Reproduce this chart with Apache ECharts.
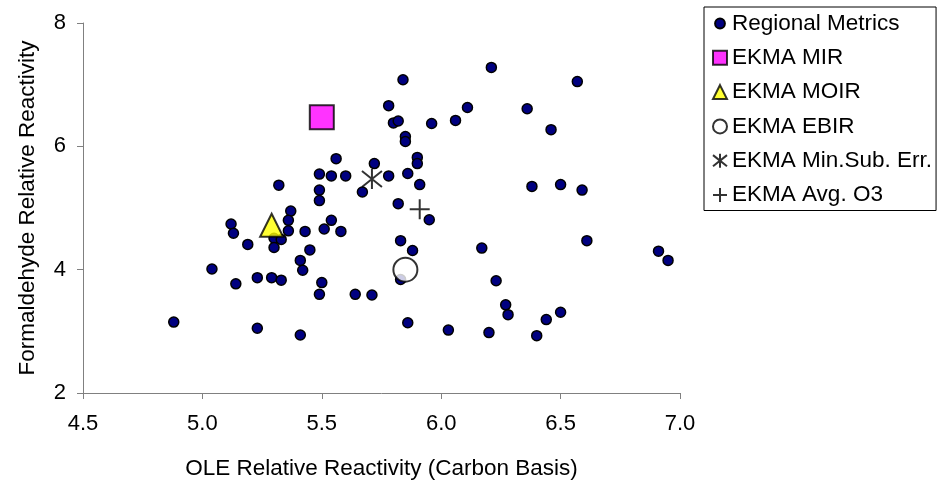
<!DOCTYPE html>
<html>
<head>
<meta charset="utf-8">
<script src="https://cdn.jsdelivr.net/npm/echarts@6/dist/echarts.min.js"></script>
<style>
  html, body { margin: 0; padding: 0; background: #fff; }
  #chart { width: 938px; height: 488px; }
</style>
</head>
<body>
<div id="chart"></div>
<script>
// Regional metric points: OLE relative reactivity (x) vs formaldehyde relative reactivity (y)
const regionalX = [4.88, 5.04, 5.12, 5.13, 5.14, 5.19, 5.23, 5.23, 5.29, 5.33, 5.30, 5.33, 5.30, 5.32, 5.37, 5.36, 5.36, 5.41, 5.42, 5.41,
  5.43, 5.45, 5.49, 5.49, 5.49, 5.50, 5.49, 5.51, 5.54, 5.54, 5.58, 5.56, 5.60, 5.64, 5.67, 5.71, 5.72, 5.78, 5.78, 5.80,
  5.82, 5.84, 5.82, 5.83, 5.83, 5.85, 5.85, 5.86, 5.86, 5.88, 5.90, 5.90, 5.91, 5.95, 5.96, 6.03, 6.06, 6.11, 6.17, 6.20,
  6.21, 6.23, 6.27, 6.28, 6.36, 6.38, 6.40, 6.44, 6.46, 6.50, 6.50, 6.57, 6.59, 6.61, 6.91, 6.95];
const regionalY = [3.15, 4.01, 4.74, 4.59, 3.77, 4.41, 3.87, 3.05, 3.87, 3.83, 4.51, 4.49, 4.36, 5.37, 4.95, 4.80, 4.63, 4.15, 3.99, 2.94,
  4.62, 4.32, 5.29, 5.12, 5.55, 3.79, 3.60, 4.66, 4.80, 5.52, 4.62, 5.80, 5.52, 3.60, 5.26, 3.59, 5.72, 5.52, 6.66, 6.38,
  6.41, 7.08, 5.07, 4.47, 3.84, 6.16, 6.08, 3.14, 5.56, 4.31, 5.82, 5.72, 5.38, 4.81, 6.37, 3.02, 6.42, 6.63, 4.35, 2.98,
  7.28, 3.82, 3.43, 3.27, 6.61, 5.35, 2.93, 3.19, 6.27, 5.38, 3.31, 7.05, 5.29, 4.47, 4.30, 4.15];

// EKMA scale points
const ekmaNames = ['EKMA MIR', 'EKMA MOIR', 'EKMA EBIR', 'EKMA Min.Sub. Err.', 'EKMA Avg. O3'];
const ekmaX = [5.50, 5.29, 5.85, 5.71, 5.91];
const ekmaY = [6.47, 4.72, 4.00, 5.47, 4.98];

// Axis ticks
const xTicks = { min: 4.5, max: 7.0, step: 0.5 };
const yTicks = { min: 2, max: 8, step: 2 };

const FONT = "'Liberation Sans', Arial, sans-serif";
const ASTERISK = 'path://M0,-10L0,10M-10,-8L10,8M-10,8L10,-8';
const PLUS = 'path://M-10,0L10,0M0,-10L0,10';
const SMALL_DOT = 'path://M0,0M20,20M3,10A7,7,0,1,1,17,10A7,7,0,1,1,3,10Z';

const zip = (xs, ys) => xs.map((x, i) => [x, ys[i]]);

const ekmaStyles = [
  { symbol: 'rect', symbolSize: 24, itemStyle: { color: '#ff00ff', borderColor: '#000', borderWidth: 2 } },
  { symbol: 'triangle', symbolSize: 23, itemStyle: { color: '#ffff00', borderColor: '#000', borderWidth: 2 } },
  { symbol: 'circle', symbolSize: 24, itemStyle: { color: '#ffffff', borderColor: '#000', borderWidth: 2 } },
  { symbol: ASTERISK, symbolSize: 20, itemStyle: { color: 'rgba(0,0,0,0)', borderColor: '#000', borderWidth: 2 } },
  { symbol: PLUS, symbolSize: 20, itemStyle: { color: 'rgba(0,0,0,0)', borderColor: '#000', borderWidth: 2 } }
];

const series = [{
  name: 'Regional Metrics',
  type: 'scatter',
  symbol: 'circle',
  symbolSize: 10,
  itemStyle: { color: '#000080', borderColor: '#000', borderWidth: 1.5, opacity: 1 },
  data: zip(regionalX, regionalY),
  z: 2
}];
ekmaNames.forEach((name, i) => {
  series.push(Object.assign({
    name: name,
    type: 'scatter',
    symbolKeepAspect: true,
    data: [[ekmaX[i], ekmaY[i]]],
    z: 3
  }, ekmaStyles[i]));
});

const legendIcons = [SMALL_DOT, 'rect', 'triangle', 'circle', ASTERISK, PLUS];
const legendNames = ['Regional Metrics'].concat(ekmaNames);

const chart = echarts.init(document.getElementById('chart'), null, { renderer: 'canvas' });
chart.setOption({
  animation: false,
  backgroundColor: '#ffffff',
  textStyle: { fontFamily: FONT, color: '#000' },
  grid: { left: 83, right: 258, top: 23, bottom: 95, containLabel: false },
  legend: {
    orient: 'vertical',
    left: 704,
    top: 7,
    padding: [5, 4, 4, 8],
    itemWidth: 14,
    itemHeight: 14,
    itemGap: 11.3,
    borderColor: '#000',
    borderWidth: 1,
    selectedMode: false,
    textStyle: { fontFamily: FONT, fontSize: 22.5, color: '#000' },
    data: legendNames.map((n, i) => ({ name: n, icon: legendIcons[i] }))
  },
  xAxis: {
    type: 'value',
    min: xTicks.min,
    max: xTicks.max,
    interval: xTicks.step,
    name: 'OLE Relative Reactivity (Carbon Basis)',
    nameLocation: 'middle',
    nameGap: 64,
    nameTextStyle: { fontFamily: FONT, fontSize: 22.5, color: '#000' },
    axisLine: { onZero: false, lineStyle: { color: '#808080', width: 1 } },
    axisTick: { show: true, inside: false, length: 6, lineStyle: { color: '#808080' } },
    axisLabel: { fontFamily: FONT, fontSize: 22, color: '#000', margin: 20, formatter: v => v.toFixed(1) },
    splitLine: { show: false }
  },
  yAxis: {
    type: 'value',
    min: yTicks.min,
    max: yTicks.max,
    interval: yTicks.step,
    name: 'Formaldehyde Relative Reactivity',
    nameLocation: 'middle',
    nameGap: 44,
    nameTextStyle: { fontFamily: FONT, fontSize: 22.5, color: '#000' },
    axisLine: { show: true, onZero: false, lineStyle: { color: '#808080', width: 1 } },
    axisTick: { show: true, inside: false, length: 6, lineStyle: { color: '#808080' } },
    axisLabel: { fontFamily: FONT, fontSize: 22, color: '#000', margin: 17 },
    splitLine: { show: false }
  },
  series: series
});
</script>
</body>
</html>
